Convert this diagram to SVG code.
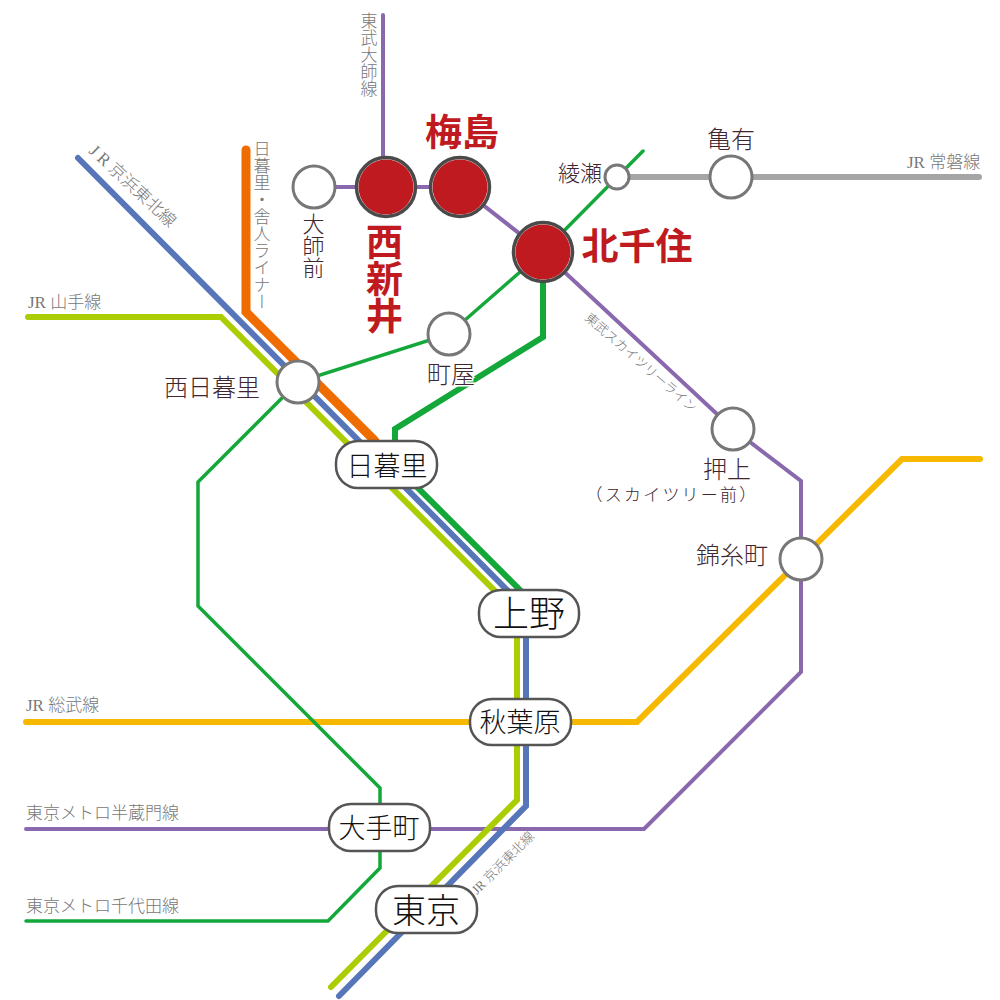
<svg xmlns="http://www.w3.org/2000/svg" width="1000" height="1000" viewBox="0 0 1000 1000">
<style>
text{font-family:"Liberation Serif","Noto Sans CJK JP",serif}
.l{fill:none;stroke-linejoin:miter;stroke-linecap:round}
.line-label{fill:#777;font-size:17px;font-weight:300}
.st-label{fill:#40262f;font-size:24px;font-weight:300;text-anchor:middle}
.big{fill:#bf1a20;font-weight:700;text-anchor:middle}
.box-label{fill:#111;text-anchor:middle;font-weight:300}
.v{writing-mode:vertical-rl}
.st{fill:#fff;stroke:#777;stroke-width:3}
.box{fill:#fff;stroke:#555;stroke-width:2.5}
.outer{fill:#fff;stroke:#4a4a4a;stroke-width:3.5}
.inner{fill:#bf1a20}
</style>
<rect width="1000" height="1000" fill="#fff"/>
<g id="connectors">
<path class="l" stroke="#a5a5a5" stroke-width="6" d="M617 177H979"/>
<path class="l" stroke="#f7b900" stroke-width="6" d="M26 722H637L902 459H980"/>
<path class="l" stroke="#8a68ae" stroke-width="4" d="M383 15V187M314 187H460L543 252L733 429L801 481V672L644 829H26"/>
<path class="l" stroke="#14a83b" stroke-width="3.5" d="M26 921H328L380 868V788L198 606V482L298 382L449 334L543 252L643 151"/>
<path class="l" stroke="#14a83b" stroke-width="6" d="M543 252V337L395 429V465L525 595"/>
<path class="l" stroke="#abcd03" stroke-width="6" d="M28 317H221L517 613V800L331 987"/>
<path class="l" stroke="#5676b9" stroke-width="6" d="M78 158L526 609V806L339 996"/>
<path class="l" stroke="#ee6c00" stroke-width="9" d="M246 150V312L375 441"/>
</g>
<g id="line-labels">
<text class="line-label v" x="367" y="12">東武大師線</text>
<text class="line-label v" x="260" y="140">日暮里・舎人ライナー</text>
<text class="line-label" transform="translate(88 152) rotate(43)">J R 京浜東北線</text>
<text class="line-label" x="28" y="308">JR 山手線</text>
<text class="line-label" x="907" y="168">JR 常磐線</text>
<text class="line-label" x="26" y="711">JR 総武線</text>
<text class="line-label" x="26" y="819">東京メトロ半蔵門線</text>
<text class="line-label" x="26" y="912">東京メトロ千代田線</text>
<text class="line-label" transform="translate(477 895) rotate(-45)" style="font-size:13px">JR 京浜東北線</text>
<text class="line-label" transform="translate(584 319) rotate(41)" style="font-size:13px">東武スカイツリーライン</text>
</g>
<g id="daishimae"><circle class="st" cx="314" cy="187" r="21"/><text class="st-label v" x="311" y="213" style="text-anchor:start;font-size:22px">大師前</text></g>
<g id="nishiarai"><circle class="outer" cx="386" cy="187" r="29.5"/><circle class="inner" cx="386" cy="187" r="27.5"/><text class="big v" x="381" y="223" style="text-anchor:start;font-size:37px">西新井</text></g>
<g id="umejima"><circle class="outer" cx="460" cy="187" r="29.5"/><circle class="inner" cx="460" cy="187" r="27.5"/><text class="big" x="462" y="146" font-size="37">梅島</text></g>
<g id="kitasenju"><circle class="outer" cx="543" cy="252" r="29.5"/><circle class="inner" cx="543" cy="252" r="27.5"/><text class="big" x="637" y="260" font-size="37">北千住</text></g>
<g id="ayase"><circle class="st" cx="617" cy="177" r="12"/><text class="st-label" x="580" y="181" style="font-size:22px">綾瀬</text></g>
<g id="kameari"><circle class="st" cx="731" cy="177" r="21"/><text class="st-label" x="731" y="148">亀有</text></g>
<g id="machiya"><circle class="st" cx="449" cy="334" r="21"/><text class="st-label" x="451" y="383" stroke="#fff" stroke-width="3" paint-order="stroke">町屋</text></g>
<g id="nishinippori"><circle class="st" cx="298" cy="382" r="21"/><text class="st-label" x="212" y="396">西日暮里</text></g>
<g id="oshiage"><circle class="st" cx="733" cy="429" r="21"/><text class="st-label" x="727" y="478">押上</text><text class="st-label" x="672" y="501" style="font-size:17px;letter-spacing:2.2px">（スカイツリー前）</text></g>
<g id="kinshicho"><circle class="st" cx="801" cy="559" r="21"/><text class="st-label" x="732" y="564">錦糸町</text></g>
<g id="nippori"><rect class="box" x="336" y="441" width="101" height="47" rx="22"/><text class="box-label" x="387" y="476" font-size="27">日暮里</text></g>
<g id="ueno"><rect class="box" x="479" y="590" width="100" height="47" rx="22"/><text class="box-label" x="529" y="627" font-size="36">上野</text></g>
<g id="akihabara"><rect class="box" x="470" y="699" width="101" height="46" rx="22"/><text class="box-label" x="520" y="732" font-size="27">秋葉原</text></g>
<g id="otemachi"><rect class="box" x="329" y="804" width="101" height="47" rx="22"/><text class="box-label" x="379" y="838" font-size="27">大手町</text></g>
<g id="tokyo"><rect class="box" x="376" y="886" width="101" height="47" rx="22"/><text class="box-label" x="426" y="923" font-size="34">東京</text></g>
</svg>
